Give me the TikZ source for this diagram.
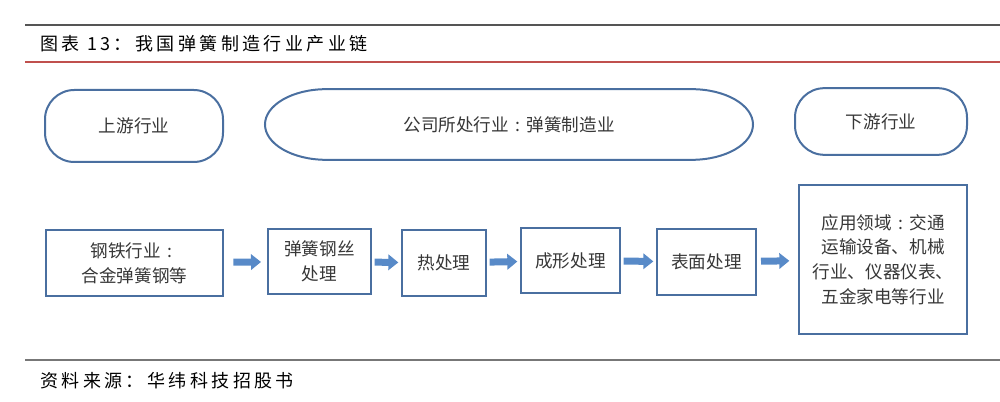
\documentclass[tikz,border=0pt]{standalone}
\usepackage{fontspec}
\setmainfont{Noto Sans CJK SC}
\newfontfamily\captionfont[LetterSpace=19]{Noto Sans CJK SC}
\usetikzlibrary{positioning,arrows.meta}
\definecolor{boxblue}{RGB}{74,111,160}
\definecolor{flowblue}{RGB}{88,138,200}
\definecolor{rulegray}{RGB}{85,85,85}
\definecolor{rulered}{RGB}{192,80,77}
\definecolor{textgray}{RGB}{55,55,55}
\newcommand{\fullcolon}{\makebox[1em]{:}}

\begin{document}
\begin{tikzpicture}[
 x=0.75pt, y=0.75pt,
 capsule/.style={rectangle, draw=boxblue, line width=1.5pt, rounded corners=22pt, minimum height=52pt, align=center, text=textgray, font=\fontsize{13.2pt}{18.5pt}\selectfont},
 stage/.style={rectangle, draw=boxblue, line width=1.5pt, minimum height=49pt, align=center, text=textgray, font=\fontsize{13.2pt}{18.5pt}\selectfont},
 flow/.style={-{Triangle[length=7.5pt,width=11.5pt]}, line width=5.25pt, draw=flowblue, shorten <=2pt, shorten >=2pt},
 caption/.style={anchor=west, inner sep=0pt, font=\captionfont\fontsize{13.5pt}{15pt}\selectfont}
]
\useasboundingbox (0,0) rectangle (1000,-402);

% Rules and captions
\draw[rulegray, line width=1.5pt] (25,-25) -- (1000,-25);
\draw[rulered, line width=1.1pt] (25,-62) -- (1000,-62);
\draw[rulegray!80, line width=1.8pt] (25,-360) -- (1000,-360);
\node[caption] (title) at (40,-44) {图表 13：我国弹簧制造行业产业链};
\node[caption] (source) at (40,-381) {资料来源：华纬科技招股书};

% Row 1: industry level
\node[capsule, minimum width=133.5pt, minimum height=54pt] (upstream) at (134,-126) {上游行业};
\node[stage, draw=none, outer sep=0pt, minimum width=366pt, minimum height=53pt] (company) at (509,-124.5) {公司所处行业\fullcolon 弹簧制造业};
\node[capsule, minimum width=129pt, minimum height=50pt] (downstream) at (881,-121.5) {下游行业};
\draw[boxblue, line width=1.5pt]
 ([xshift=46pt]company.north west) -- ([xshift=-46pt]company.north east)
 arc[start angle=90, end angle=-90, x radius=46pt, y radius=26.5pt]
 -- ([xshift=46pt]company.south west)
 arc[start angle=270, end angle=90, x radius=46pt, y radius=26.5pt] -- cycle;

% Row 2: process chain
\node[stage, minimum width=132.75pt] (steel) at (134.5,-263) {钢铁行业\fullcolon\\合金弹簧钢等};
\node[stage, minimum width=77.25pt] (wire) at (319.5,-261.5) {弹簧钢丝\\处理};
\node[stage, minimum width=63pt] (heat) at (444,-263) {热处理};
\node[stage, minimum width=74.25pt] (forming) at (570.5,-260.5) {成形处理};
\node[stage, minimum width=74.25pt] (surface) at (706.5,-262) {表面处理};
\node[stage, minimum width=126pt, minimum height=111.75pt] (apps) at (883,-259.5) {应用领域\fullcolon 交通\\运输设备、机械\\行业、仪器仪表、\\五金家电等行业};

% Arrows
\draw[flow, shorten <=7pt, shorten >=4.5pt] (steel) -- (wire);
\draw[flow] (wire) -- (heat);
\draw[flow] (heat) -- (forming);
\draw[flow] (forming) -- (surface);
\draw[flow, shorten <=3pt, shorten >=6.5pt] (surface) -- (apps);

\end{tikzpicture}
\end{document}
